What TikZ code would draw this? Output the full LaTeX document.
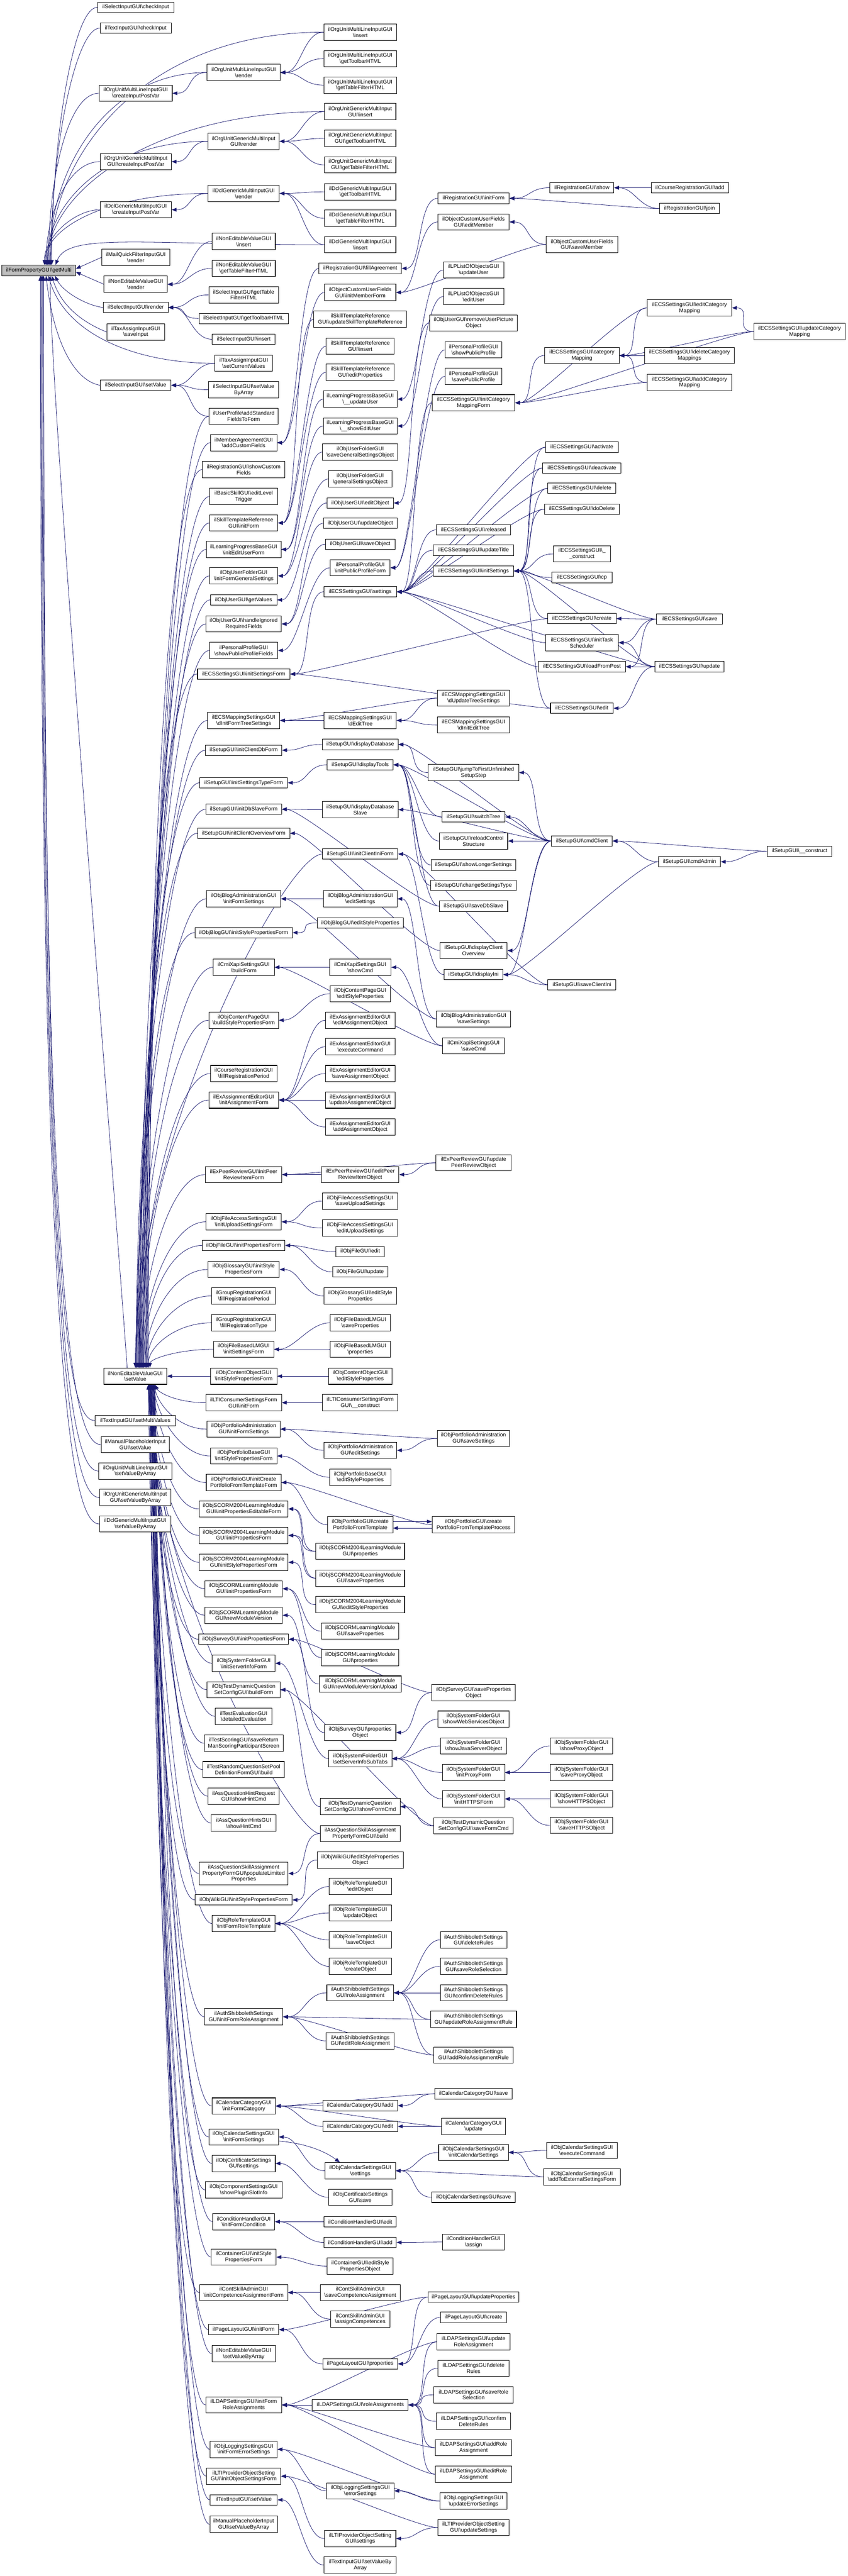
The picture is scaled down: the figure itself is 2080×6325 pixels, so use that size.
\documentclass[tikz,border=0pt]{standalone}
\usepackage{fontspec}
\setmainfont{Liberation Sans}
\usetikzlibrary{arrows.meta}
\definecolor{edgec}{HTML}{191970}
\definecolor{rootc}{HTML}{BFBFBF}
\newcommand\bs{\textbackslash}
\pgfdeclarelayer{bg}
\pgfsetlayers{bg,main}
\tikzset{
 box/.style={draw=black, line width=0.65pt, fill=white, align=center, inner xsep=1pt, inner ysep=1pt, font=\fontsize{6.63}{7.45}\selectfont},
 one/.style={minimum height=12.8pt},
 two/.style={minimum height=20pt},
 three/.style={minimum height=27.5pt},
 edge/.style={draw=edgec, line width=0.5pt, {Triangle[length=6pt,width=4.6pt]}-},
}
\newcommand\N[6]{\node[box,#5,minimum width={#4*0.5pt}] (#1) at (#2,#3) {#6};}
\newcommand\E[2]{\draw[edge] (#1.east) .. controls +(50,0) and +(-50,0) .. (#2.west);}
\newcommand\SU[3]{\draw[edge] ([xshift=#3]nnesv.north) .. controls +(0,{-0.45*(3359-#2)}) and +(-90,0) .. (#1.west);}
\newcommand\SD[3]{\draw[edge] ([xshift=#3]nnesv.south) .. controls +(10,{0.45*(#2-3399)}) and +(-70,0) .. (#1.west);}
\newcommand\RU[4]{\draw[edge] ([xshift=#2]root.north) .. controls +(0,-#3) and +(-#4,0) .. (#1.west);}
\newcommand\RD[4]{\draw[edge] ([xshift=#2]root.south) .. controls +(0,#3) and +(-#4,0) .. (#1.west);}
\begin{document}
\begin{tikzpicture}[x=0.5pt,y=-0.5pt]
\useasboundingbox (0,0) rectangle (2080,6325);
\begin{pgfonlayer}{bg}\fill[white] (0,0) rectangle (2080,6325);\end{pgfonlayer}
% ---------- root ----------
\node[box,one,fill=rootc,minimum width={181*0.5pt}] (root) at (95,664) {ilFormPropertyGUI\bs getMulti};
% ---------- column 2 ----------
\N{nsci}{333}{18}{187}{one}{ilSelectInputGUI\bs checkInput}
\N{ntci}{333}{69}{175}{one}{ilTextInputGUI\bs checkInput}
\N{nomlcp}{333}{229}{179}{two}{ilOrgUnitMultiLineInputGUI\\\bs createInputPostVar}
\N{nogmcp}{333}{397}{175}{two}{ilOrgUnitGenericMultiInput\\GUI\bs createInputPostVar}
\N{ndclcp}{333}{515}{175}{two}{ilDclGenericMultiInputGUI\\\bs createInputPostVar}
\N{nmqf}{333}{632}{167}{two}{ilMailQuickFilterInputGUI\\\bs render}
\N{nnevr}{333}{698}{155}{two}{ilNonEditableValueGUI\\\bs render}
\N{nsir}{333}{755}{159}{one}{ilSelectInputGUI\bs render}
\N{ntasi}{333}{815}{142}{two}{ilTaxAssignInputGUI\\\bs saveInput}
\N{nsisv}{333}{946}{173}{one}{ilSelectInputGUI\bs setValue}
\N{nnesv}{332}{3379}{155}{two}{ilNonEditableValueGUI\\\bs setValue}
\N{ntismv}{332}{3488}{197}{one}{ilTextInputGUI\bs setMultiValues}
\N{nmpsv}{332}{3547}{167}{two}{ilManualPlaceholderInput\\GUI\bs setValue}
\N{nomlsva}{332}{3612}{179}{two}{ilOrgUnitMultiLineInputGUI\\\bs setValueByArray}
\N{nogmsva}{332}{3677}{175}{two}{ilOrgUnitGenericMultiInput\\GUI\bs setValueByArray}
\N{ndclsva}{332}{3742}{175}{two}{ilDclGenericMultiInputGUI\\\bs setValueByArray}
% ---------- column 3 ----------
\N{comlr}{598}{178}{179}{two}{ilOrgUnitMultiLineInputGUI\\\bs render}
\N{cogmr}{598}{347}{175}{two}{ilOrgUnitGenericMultiInput\\GUI\bs render}
\N{cdclr}{598}{475}{175}{two}{ilDclGenericMultiInputGUI\\\bs render}
\N{cnevi}{598}{593}{155}{two}{ilNonEditableValueGUI\\\bs insert}
\N{cnevt}{598}{659}{155}{two}{ilNonEditableValueGUI\\\bs getTableFilterHTML}
\N{csitf}{598}{724}{171}{two}{ilSelectInputGUI\bs getTable\\FilterHTML}
\N{csitb}{598}{782}{219}{one}{ilSelectInputGUI\bs getToolbarHTML}
\N{csii}{598}{833}{154}{one}{ilSelectInputGUI\bs insert}
\N{ctascv}{598}{892}{142}{two}{ilTaxAssignInputGUI\\\bs setCurrentValues}
\N{csisva}{598}{957}{172}{two}{ilSelectInputGUI\bs setValue\\ByArray}
\N{cupasf}{598}{1022}{170}{two}{ilUserProfile\bs addStandard\\FieldsToForm}
\N{cmacf}{598}{1087}{163}{two}{ilMemberAgreementGUI\\\bs addCustomFields}
\N{crscf}{598}{1153}{203}{two}{ilRegistrationGUI\bs showCustom\\Fields}
\N{cbselt}{598}{1219}{167}{two}{ilBasicSkillGUI\bs editLevel\\Trigger}
\N{cstrif}{598}{1284}{167}{two}{ilSkillTemplateReference\\GUI\bs initForm}
\N{clpbieuf}{598}{1349}{183}{two}{ilLearningProgressBaseGUI\\\bs initEditUserForm}
\N{coufifgs}{598}{1414}{167}{two}{ilObjUserFolderGUI\\\bs initFormGeneralSettings}
\N{cougv}{598}{1473}{163}{one}{ilObjUserGUI\bs getValues}
\N{couhirf}{598}{1532}{185}{two}{ilObjUserGUI\bs handleIgnored\\RequiredFields}
\N{cppspf}{598}{1597}{167}{two}{ilPersonalProfileGUI\\\bs showPublicProfileFields}
\N{cecsisf}{598}{1655}{227}{one}{ilECSSettingsGUI\bs initSettingsForm}
\N{cecsmdift}{598}{1769}{177}{two}{ilECSMappingSettingsGUI\\\bs dInitFormTreeSettings}
\N{csicdf}{598}{1842}{187}{one}{ilSetupGUI\bs initClientDbForm}
\N{csistf}{598}{1922}{215}{one}{ilSetupGUI\bs initSettingsTypeForm}
\N{csidsf}{598}{1987}{186}{one}{ilSetupGUI\bs initDbSlaveForm}
\N{csicof}{598}{2046}{226}{one}{ilSetupGUI\bs initClientOverviewForm}
\N{cobaifs}{598}{2207}{182}{two}{ilObjBlogAdministrationGUI\\\bs initFormSettings}
\N{cobispf}{598}{2290}{239}{one}{ilObjBlogGUI\bs initStylePropertiesForm}
\N{ccxbf}{598}{2375}{150}{two}{ilCmiXapiSettingsGUI\\\bs buildForm}
\N{cocpbspf}{598}{2505}{171}{two}{ilObjContentPageGUI\\\bs buildStylePropertiesForm}
\N{ccrfrp}{598}{2636}{163}{two}{ilCourseRegistrationGUI\\\bs fillRegistrationPeriod}
\N{cexiaf}{598}{2701}{171}{two}{ilExAssignmentEditorGUI\\\bs initAssignmentForm}
\N{cexprif}{598}{2884}{187}{two}{ilExPeerReviewGUI\bs initPeer\\ReviewItemForm}
\N{cofasiusf}{598}{3000}{185}{two}{ilObjFileAccessSettingsGUI\\\bs initUploadSettingsForm}
\N{cofipf}{598}{3058}{203}{one}{ilObjFileGUI\bs initPropertiesForm}
\N{cogispf}{598}{3117}{175}{two}{ilObjGlossaryGUI\bs initStyle\\PropertiesForm}
\N{cgrfrp}{598}{3182}{157}{two}{ilGroupRegistrationGUI\\\bs fillRegistrationPeriod}
\N{cgrfrt}{598}{3248}{157}{two}{ilGroupRegistrationGUI\\\bs fillRegistrationType}
\N{cofblisf}{598}{3313}{148}{two}{ilObjFileBasedLMGUI\\\bs initSettingsForm}
\N{cocoispf}{598}{3379}{163}{two}{ilObjContentObjectGUI\\\bs initStylePropertiesForm}
\N{clticif}{598}{3444}{186}{two}{ilLTIConsumerSettingsForm\\GUI\bs initForm}
\N{copaifs}{598}{3509}{179}{two}{ilObjPortfolioAdministration\\GUI\bs initFormSettings}
\N{copbispf}{598}{3575}{163}{two}{ilObjPortfolioBaseGUI\\\bs initStylePropertiesForm}
\N{copicpft}{598}{3640}{184}{two}{ilObjPortfolioGUI\bs initCreate\\PortfolioFromTemplateForm}
\N{cstwoipef}{598}{3705}{218}{two}{ilObjSCORM2004LearningModule\\GUI\bs initPropertiesEditableForm}
\N{cstwoipf}{598}{3770}{218}{two}{ilObjSCORM2004LearningModule\\GUI\bs initPropertiesForm}
\N{cstwoispf}{598}{3836}{218}{two}{ilObjSCORM2004LearningModule\\GUI\bs initStylePropertiesForm}
\N{csipf}{598}{3901}{190}{two}{ilObjSCORMLearningModule\\GUI\bs initPropertiesForm}
\N{csnmv}{598}{3966}{190}{two}{ilObjSCORMLearningModule\\GUI\bs newModuleVersion}
\N{cosipf}{598}{4025}{220}{one}{ilObjSurveyGUI\bs initPropertiesForm}
\N{cosfisif}{598}{4084}{154}{two}{ilObjSystemFolderGUI\\\bs initServerInfoForm}
\N{ctdqbf}{598}{4149}{179}{two}{ilObjTestDynamicQuestion\\SetConfigGUI\bs buildForm}
\N{ctede}{598}{4214}{139}{two}{ilTestEvaluationGUI\\\bs detailedEvaluation}
\N{ctsgs}{598}{4280}{194}{two}{ilTestScoringGUI\bs saveReturn\\ManScoringParticipantScreen}
\N{ctrqs}{598}{4345}{200}{two}{ilTestRandomQuestionSetPool\\DefinitionFormGUI\bs build}
\N{caqhr}{598}{4410}{175}{two}{ilAssQuestionHintRequest\\GUI\bs showHintCmd}
\N{caqh}{598}{4476}{159}{two}{ilAssQuestionHintsGUI\\\bs showHintCmd}
\N{caqsapl}{598}{4600}{218}{three}{ilAssQuestionSkillAssignment\\PropertyFormGUI\bs populateLimited\\Properties}
\N{cowispf}{598}{4665}{238}{one}{ilObjWikiGUI\bs initStylePropertiesForm}
\N{cortifrt}{598}{4723}{154}{two}{ilObjRoleTemplateGUI\\\bs initFormRoleTemplate}
\N{cshifra}{598}{4952}{192}{two}{ilAuthShibbolethSettings\\GUI\bs initFormRoleAssignment}
\N{cccifc}{598}{5171}{156}{two}{ilCalendarCategoryGUI\\\bs initFormCategory}
\N{cocsifs}{598}{5247}{171}{two}{ilObjCalendarSettingsGUI\\\bs initFormSettings}
\N{cocertss}{598}{5312}{155}{two}{ilObjCertificateSettings\\GUI\bs settings}
\N{cocompsp}{598}{5377}{188}{two}{ilObjComponentSettingsGUI\\\bs showPluginSlotInfo}
\N{cchifc}{598}{5455}{152}{two}{ilConditionHandlerGUI\\\bs initFormCondition}
\N{ccispf}{598}{5542}{159}{two}{ilContainerGUI\bs initStyle\\PropertiesForm}
\N{ccsaicaf}{598}{5629}{216}{two}{ilContSkillAdminGUI\\\bs initCompetenceAssignmentForm}
\N{cplif}{598}{5720}{172}{one}{ilPageLayoutGUI\bs initForm}
\N{cnevsva}{598}{5779}{156}{two}{ilNonEditableValueGUI\\\bs setValueByArray}
\N{cldapifra}{598}{5905}{186}{two}{ilLDAPSettingsGUI\bs initForm\\RoleAssignments}
\N{colsifes}{598}{6014}{165}{two}{ilObjLoggingSettingsGUI\\\bs initFormErrorSettings}
\N{cltipiosf}{598}{6080}{182}{two}{ilLTIProviderObjectSetting\\GUI\bs initObjectSettingsForm}
\N{ctisv}{598}{6138}{165}{one}{ilTextInputGUI\bs setValue}
\N{cmpsva}{598}{6198}{166}{two}{ilManualPlaceholderInput\\GUI\bs setValueByArray}
% ---------- column 4 ----------
\N{domli}{884}{79}{179}{two}{ilOrgUnitMultiLineInputGUI\\\bs insert}
\N{domltb}{884}{144}{179}{two}{ilOrgUnitMultiLineInputGUI\\\bs getToolbarHTML}
\N{domltf}{884}{209}{179}{two}{ilOrgUnitMultiLineInputGUI\\\bs getTableFilterHTML}
\N{dogmi}{884}{274}{175}{two}{ilOrgUnitGenericMultiInput\\GUI\bs insert}
\N{dogmtb}{884}{340}{175}{two}{ilOrgUnitGenericMultiInput\\GUI\bs getToolbarHTML}
\N{dogmtf}{884}{405}{175}{two}{ilOrgUnitGenericMultiInput\\GUI\bs getTableFilterHTML}
\N{ddcltb}{884}{471}{175}{two}{ilDclGenericMultiInputGUI\\\bs getToolbarHTML}
\N{ddcltf}{884}{536}{175}{two}{ilDclGenericMultiInputGUI\\\bs getTableFilterHTML}
\N{ddcli}{884}{601}{175}{two}{ilDclGenericMultiInputGUI\\\bs insert}
\N{drfa}{884}{659}{202}{one}{ilRegistrationGUI\bs fillAgreement}
\N{docufimf}{884}{718}{175}{two}{ilObjectCustomUserFields\\GUI\bs initMemberForm}
\N{dstrust}{884}{784}{228}{two}{ilSkillTemplateReference\\GUI\bs updateSkillTemplateReference}
\N{dstri}{884}{850}{167}{two}{ilSkillTemplateReference\\GUI\bs insert}
\N{dstrep}{884}{914}{167}{two}{ilSkillTemplateReference\\GUI\bs editProperties}
\N{dlpbuu}{884}{980}{181}{two}{ilLearningProgressBaseGUI\\\bs \_\_updateUser}
\N{dlpbseu}{884}{1046}{181}{two}{ilLearningProgressBaseGUI\\\bs \_\_showEditUser}
\N{doufsgs}{884}{1110}{185}{two}{ilObjUserFolderGUI\\\bs saveGeneralSettingsObject}
\N{doufgso}{884}{1176}{155}{two}{ilObjUserFolderGUI\\\bs generalSettingsObject}
\N{doueo}{884}{1235}{163}{one}{ilObjUserGUI\bs editObject}
\N{douuo}{884}{1285}{181}{one}{ilObjUserGUI\bs updateObject}
\N{douso}{884}{1336}{170}{one}{ilObjUserGUI\bs saveObject}
\N{dppippf}{884}{1394}{147}{two}{ilPersonalProfileGUI\\\bs initPublicProfileForm}
\N{decss}{884}{1453}{178}{one}{ilECSSettingsGUI\bs settings}
\N{decsmdet}{884}{1769}{177}{two}{ilECSMappingSettingsGUI\\\bs dEditTree}
\N{dsdd}{884}{1828}{186}{one}{ilSetupGUI\bs displayDatabase}
\N{dsdt}{884}{1878}{162}{one}{ilSetupGUI\bs displayTools}
\N{dsdds}{884}{1988}{186}{two}{ilSetupGUI\bs displayDatabase\\Slave}
\N{dsicif}{884}{2097}{185}{one}{ilSetupGUI\bs initClientIniForm}
\N{dobaes}{884}{2207}{181}{two}{ilObjBlogAdministrationGUI\\\bs editSettings}
\N{dobesp}{884}{2266}{212}{one}{ilObjBlogGUI\bs editStyleProperties}
\N{dcxsc}{884}{2375}{151}{two}{ilCmiXapiSettingsGUI\\\bs showCmd}
\N{docpesp}{884}{2440}{148}{two}{ilObjContentPageGUI\\\bs editStyleProperties}
\N{dexeao}{884}{2505}{170}{two}{ilExAssignmentEditorGUI\\\bs editAssignmentObject}
\N{dexec}{884}{2570}{170}{two}{ilExAssignmentEditorGUI\\\bs executeCommand}
\N{dexsao}{884}{2636}{170}{two}{ilExAssignmentEditorGUI\\\bs saveAssignmentObject}
\N{dexuao}{884}{2701}{170}{two}{ilExAssignmentEditorGUI\\\bs updateAssignmentObject}
\N{dexaao}{884}{2767}{170}{two}{ilExAssignmentEditorGUI\\\bs addAssignmentObject}
\N{dexepr}{884}{2884}{190}{two}{ilExPeerReviewGUI\bs editPeer\\ReviewItemObject}
\N{dofassus}{884}{2949}{185}{two}{ilObjFileAccessSettingsGUI\\\bs saveUploadSettings}
\N{dofaseus}{884}{3015}{185}{two}{ilObjFileAccessSettingsGUI\\\bs editUploadSettings}
\N{dofe}{884}{3073}{119}{one}{ilObjFileGUI\bs edit}
\N{dofu}{884}{3123}{136}{one}{ilObjFileGUI\bs update}
\N{dogesp}{884}{3182}{179}{two}{ilObjGlossaryGUI\bs editStyle\\Properties}
\N{dofblsp}{884}{3248}{148}{two}{ilObjFileBasedLMGUI\\\bs saveProperties}
\N{dofblp}{884}{3313}{148}{two}{ilObjFileBasedLMGUI\\\bs properties}
\N{docoesp}{884}{3379}{156}{two}{ilObjContentObjectGUI\\\bs editStyleProperties}
\N{dltic}{884}{3444}{185}{two}{ilLTIConsumerSettingsForm\\GUI\bs \_\_construct}
\N{dopaes}{884}{3561}{179}{two}{ilObjPortfolioAdministration\\GUI\bs editSettings}
\N{dopbesp}{884}{3627}{150}{two}{ilObjPortfolioBaseGUI\\\bs editStyleProperties}
\N{dopcpft}{884}{3744}{160}{two}{ilObjPortfolioGUI\bs create\\PortfolioFromTemplate}
\N{dstwop}{884}{3809}{218}{two}{ilObjSCORM2004LearningModule\\GUI\bs properties}
\N{dstwosp}{884}{3875}{218}{two}{ilObjSCORM2004LearningModule\\GUI\bs saveProperties}
\N{dstwoesp}{884}{3940}{218}{two}{ilObjSCORM2004LearningModule\\GUI\bs editStyleProperties}
\N{dssp}{884}{4005}{190}{two}{ilObjSCORMLearningModule\\GUI\bs saveProperties}
\N{dsp}{884}{4070}{190}{two}{ilObjSCORMLearningModule\\GUI\bs properties}
\N{dsnmvu}{884}{4135}{201}{two}{ilObjSCORMLearningModule\\GUI\bs newModuleVersionUpload}
\N{dospo}{884}{4254}{175}{two}{ilObjSurveyGUI\bs properties\\Object}
\N{dosfssist}{884}{4318}{155}{two}{ilObjSystemFolderGUI\\\bs setServerInfoSubTabs}
\N{dtdqsfc}{884}{4436}{196}{two}{ilObjTestDynamicQuestion\\SetConfigGUI\bs showFormCmd}
\N{daqsab}{884}{4502}{196}{two}{ilAssQuestionSkillAssignment\\PropertyFormGUI\bs build}
\N{dowesp}{884}{4567}{211}{two}{ilObjWikiGUI\bs editStyleProperties\\Object}
\N{dorteo}{884}{4632}{153}{two}{ilObjRoleTemplateGUI\\\bs editObject}
\N{dortuo}{884}{4697}{153}{two}{ilObjRoleTemplateGUI\\\bs updateObject}
\N{dortso}{884}{4763}{153}{two}{ilObjRoleTemplateGUI\\\bs saveObject}
\N{dortco}{884}{4828}{153}{two}{ilObjRoleTemplateGUI\\\bs createObject}
\N{dshra}{884}{4893}{164}{two}{ilAuthShibbolethSettings\\GUI\bs roleAssignment}
\N{dshera}{884}{5011}{167}{two}{ilAuthShibbolethSettings\\GUI\bs editRoleAssignment}
\N{dcca}{884}{5170}{183}{one}{ilCalendarCategoryGUI\bs add}
\N{dcce}{884}{5221}{183}{one}{ilCalendarCategoryGUI\bs edit}
\N{docss}{884}{5330}{173}{two}{ilObjCalendarSettingsGUI\\\bs settings}
\N{docerts}{884}{5395}{156}{two}{ilObjCertificateSettings\\GUI\bs save}
\N{dche}{884}{5455}{177}{one}{ilConditionHandlerGUI\bs edit}
\N{dcha}{884}{5506}{177}{one}{ilConditionHandlerGUI\bs add}
\N{dcespo}{884}{5564}{162}{two}{ilContainerGUI\bs editStyle\\PropertiesObject}
\N{dcsasca}{884}{5629}{196}{two}{ilContSkillAdminGUI\\\bs saveCompetenceAssignment}
\N{dcsaac}{884}{5694}{145}{two}{ilContSkillAdminGUI\\\bs assignCompetences}
\N{dplp}{884}{5804}{184}{one}{ilPageLayoutGUI\bs properties}
\N{dldapra}{884}{5905}{235}{one}{ilLDAPSettingsGUI\bs roleAssignments}
\N{dolses}{884}{6116}{166}{two}{ilObjLoggingSettingsGUI\\\bs errorSettings}
\N{dltips}{884}{6233}{175}{two}{ilLTIProviderObjectSetting\\GUI\bs settings}
\N{dtisva}{884}{6298}{177}{two}{ilTextInputGUI\bs setValueBy\\Array}
% ---------- column 5 ----------
\N{erif}{1162}{487}{175}{one}{ilRegistrationGUI\bs initForm}
\N{eocufem}{1162}{545}{175}{two}{ilObjectCustomUserFields\\GUI\bs editMember}
\N{elploupd}{1162}{663}{148}{two}{ilLPListOfObjectsGUI\\\bs updateUser}
\N{elploed}{1162}{728}{148}{two}{ilLPListOfObjectsGUI\\\bs editUser}
\N{eourupo}{1162}{793}{216}{two}{ilObjUserGUI\bs removeUserPicture\\Object}
\N{eppspp}{1162}{859}{140}{two}{ilPersonalProfileGUI\\\bs showPublicProfile}
\N{eppsavpp}{1162}{924}{140}{two}{ilPersonalProfileGUI\\\bs savePublicProfile}
\N{eecsicmf}{1162}{989}{203}{two}{ilECSSettingsGUI\bs initCategory\\MappingForm}
\N{eecsrel}{1162}{1301}{182}{one}{ilECSSettingsGUI\bs released}
\N{eecsut}{1162}{1351}{197}{one}{ilECSSettingsGUI\bs updateTitle}
\N{eecsis}{1162}{1402}{197}{one}{ilECSSettingsGUI\bs initSettings}
\N{eecsmduts}{1162}{1714}{178}{two}{ilECSMappingSettingsGUI\\\bs dUpdateTreeSettings}
\N{eecsmdiet}{1162}{1780}{178}{two}{ilECSMappingSettingsGUI\\\bs dInitEditTree}
\N{esjtf}{1162}{1897}{222}{two}{ilSetupGUI\bs jumpToFirstUnfinished\\SetupStep}
\N{esst}{1162}{2006}{155}{one}{ilSetupGUI\bs switchTree}
\N{esrcs}{1162}{2065}{168}{two}{ilSetupGUI\bs reloadControl\\Structure}
\N{esls}{1162}{2124}{207}{one}{ilSetupGUI\bs showLongerSettings}
\N{escst}{1162}{2174}{209}{one}{ilSetupGUI\bs changeSettingsType}
\N{essds}{1162}{2225}{168}{one}{ilSetupGUI\bs saveDbSlave}
\N{esdco}{1162}{2334}{165}{two}{ilSetupGUI\bs displayClient\\Overview}
\N{esdi}{1162}{2393}{145}{one}{ilSetupGUI\bs displayIni}
\N{eobass}{1162}{2502}{182}{two}{ilObjBlogAdministrationGUI\\\bs saveSettings}
\N{ecxsc}{1162}{2568}{151}{two}{ilCmiXapiSettingsGUI\\\bs saveCmd}
\N{eexprupr}{1162}{2855}{184}{two}{ilExPeerReviewGUI\bs update\\PeerReviewObject}
\N{eopass}{1162}{3532}{178}{two}{ilObjPortfolioAdministration\\GUI\bs saveSettings}
\N{eopcpftp}{1162}{3744}{203}{two}{ilObjPortfolioGUI\bs create\\PortfolioFromTemplateProcess}
\N{eosspo}{1162}{4156}{204}{two}{ilObjSurveyGUI\bs saveProperties\\Object}
\N{eosfswso}{1162}{4221}{174}{two}{ilObjSystemFolderGUI\\\bs showWebServicesObject}
\N{eosfsjso}{1162}{4287}{161}{two}{ilObjSystemFolderGUI\\\bs showJavaServerObject}
\N{eosfipf}{1162}{4352}{153}{two}{ilObjSystemFolderGUI\\\bs initProxyForm}
\N{eosfihf}{1162}{4417}{153}{two}{ilObjSystemFolderGUI\\\bs initHTTPSForm}
\N{etdqsfc}{1162}{4483}{194}{two}{ilObjTestDynamicQuestion\\SetConfigGUI\bs saveFormCmd}
\N{eshdr}{1162}{4763}{163}{two}{ilAuthShibbolethSettings\\GUI\bs deleteRules}
\N{eshsrs}{1162}{4828}{163}{two}{ilAuthShibbolethSettings\\GUI\bs saveRoleSelection}
\N{eshcdr}{1162}{4893}{163}{two}{ilAuthShibbolethSettings\\GUI\bs confirmDeleteRules}
\N{eshurar}{1162}{4958}{211}{two}{ilAuthShibbolethSettings\\GUI\bs updateRoleAssignmentRule}
\N{eshara}{1162}{5046}{194}{two}{ilAuthShibbolethSettings\\GUI\bs addRoleAssignmentRule}
\N{eccs}{1162}{5141}{189}{one}{ilCalendarCategoryGUI\bs save}
\N{eccu}{1162}{5221}{157}{two}{ilCalendarCategoryGUI\\\bs update}
\N{eocsics}{1162}{5285}{171}{two}{ilObjCalendarSettingsGUI\\\bs initCalendarSettings}
\N{eocssave}{1162}{5395}{204}{one}{ilObjCalendarSettingsGUI\bs save}
\N{echa}{1162}{5505}{152}{two}{ilConditionHandlerGUI\\\bs assign}
\N{eplup}{1162}{5640}{222}{one}{ilPageLayoutGUI\bs updateProperties}
\N{eplc}{1162}{5690}{161}{one}{ilPageLayoutGUI\bs create}
\N{eldapura}{1162}{5750}{179}{two}{ilLDAPSettingsGUI\bs update\\RoleAssignment}
\N{eldapdr}{1162}{5815}{175}{two}{ilLDAPSettingsGUI\bs delete\\Rules}
\N{eldapsrs}{1162}{5880}{194}{two}{ilLDAPSettingsGUI\bs saveRole\\Selection}
\N{eldapcdr}{1162}{5945}{182}{two}{ilLDAPSettingsGUI\bs confirm\\DeleteRules}
\N{eldapara}{1162}{6010}{187}{two}{ilLDAPSettingsGUI\bs addRole\\Assignment}
\N{eldapera}{1162}{6075}{187}{two}{ilLDAPSettingsGUI\bs editRole\\Assignment}
\N{eolsues}{1162}{6141}{165}{two}{ilObjLoggingSettingsGUI\\\bs updateErrorSettings}
\N{eltipus}{1162}{6206}{175}{two}{ilLTIProviderObjectSetting\\GUI\bs updateSettings}
% ---------- column 6 ----------
\N{frs}{1428}{461}{157}{one}{ilRegistrationGUI\bs show}
\N{focufsm}{1428}{600}{175}{two}{ilObjectCustomUserFields\\GUI\bs saveMember}
\N{fecscm}{1428}{873}{183}{two}{ilECSSettingsGUI\bs category\\Mapping}
\N{fecsact}{1428}{1098}{179}{one}{ilECSSettingsGUI\bs activate}
\N{fecsdeact}{1428}{1149}{192}{one}{ilECSSettingsGUI\bs deactivate}
\N{fecsdel}{1428}{1199}{167}{one}{ilECSSettingsGUI\bs delete}
\N{fecsdodel}{1428}{1250}{183}{one}{ilECSSettingsGUI\bs doDelete}
\N{fecscon}{1428}{1360}{140}{two}{ilECSSettingsGUI\bs \_\\\_construct}
\N{fecscp}{1428}{1418}{148}{one}{ilECSSettingsGUI\bs cp}
\N{fecscreate}{1428}{1519}{168}{one}{ilECSSettingsGUI\bs create}
\N{fecsits}{1428}{1578}{179}{two}{ilECSSettingsGUI\bs initTask\\Scheduler}
\N{fecslfp}{1428}{1637}{214}{one}{ilECSSettingsGUI\bs loadFromPost}
\N{fecsedit}{1428}{1739}{154}{one}{ilECSSettingsGUI\bs edit}
\N{fscc}{1428}{2065}{149}{one}{ilSetupGUI\bs cmdClient}
\N{fssci}{1428}{2418}{167}{one}{ilSetupGUI\bs saveClientIni}
\N{fosfspo}{1427}{4287}{154}{two}{ilObjSystemFolderGUI\\\bs showProxyObject}
\N{fosfsvpo}{1427}{4352}{154}{two}{ilObjSystemFolderGUI\\\bs saveProxyObject}
\N{fosfsho}{1427}{4417}{154}{two}{ilObjSystemFolderGUI\\\bs showHTTPSObject}
\N{fosfsvho}{1427}{4482}{154}{two}{ilObjSystemFolderGUI\\\bs saveHTTPSObject}
\N{focsec}{1428}{5280}{173}{two}{ilObjCalendarSettingsGUI\\\bs executeCommand}
\N{focsaesf}{1428}{5345}{188}{two}{ilObjCalendarSettingsGUI\\\bs addToExternalSettingsForm}
% ---------- column 7 / 8 ----------
\N{gcra}{1693}{461}{189}{one}{ilCourseRegistrationGUI\bs add}
\N{grj}{1692}{512}{146}{one}{ilRegistrationGUI\bs join}
\N{gecsecm}{1692}{756}{207}{two}{ilECSSettingsGUI\bs editCategory\\Mapping}
\N{gecsdcm}{1692}{873}{221}{two}{ilECSSettingsGUI\bs deleteCategory\\Mappings}
\N{gecsacm}{1692}{939}{207}{two}{ilECSSettingsGUI\bs addCategory\\Mapping}
\N{gecssave}{1692}{1520}{161}{one}{ilECSSettingsGUI\bs save}
\N{gecsupd}{1692}{1637}{170}{one}{ilECSSettingsGUI\bs update}
\N{gsca}{1692}{2116}{152}{one}{ilSetupGUI\bs cmdAdmin}
\N{hecsucm}{1962}{814}{224}{two}{ilECSSettingsGUI\bs updateCategory\\Mapping}
\N{hscon}{1962}{2090}{159}{one}{ilSetupGUI\bs \_\_construct}
% ================= edges =================
\begin{pgfonlayer}{bg}
% root, upward
\RU{nsci}{16pt}{300}{60}
\RU{ntci}{15pt}{280}{60}
\RU{domli}{14pt}{260}{450}
\RU{comlr}{13pt}{230}{250}
\RU{nomlcp}{12pt}{200}{80}
\RU{dogmi}{11pt}{180}{420}
\RU{cogmr}{10pt}{150}{250}
\RU{nogmcp}{9pt}{120}{80}
\RU{cdclr}{8pt}{90}{250}
\RU{ndclcp}{7pt}{70}{60}
\draw[edge] ([xshift=-25pt]root.north east) .. controls +(30,-80) and +(-450,0) .. (ddcli.west);
% root, right and downward
\draw[edge] ([yshift=2pt]root.east) -- (nmqf.west);
\draw[edge] ([yshift=-2pt]root.east) -- (nnevr.west);
\draw[edge] ([xshift=20pt]root.south) .. controls +(20,40) and +(-40,-5) .. (nsir.west);
\draw[edge] ([xshift=16pt]root.south) .. controls +(25,80) and +(-50,-20) .. (ntasi.west);
\draw[edge] ([xshift=12pt]root.south) .. controls +(40,140) and +(-200,0) .. (ctascv.west);
\draw[edge] ([xshift=9pt]root.south) .. controls +(20,170) and +(-60,-10) .. (nsisv.west);
\draw[edge] ([xshift=14pt]root.south) .. controls +(0,300) and +(-20,-300) .. ([xshift=-10pt]nnesv.north);
\RD{ntismv}{6pt}{2500}{70}
\RD{nmpsv}{5pt}{2550}{70}
\RD{nomlsva}{4pt}{2600}{70}
\RD{nogmsva}{3pt}{2650}{70}
\RD{ndclsva}{2pt}{2700}{70}
% top groups
\E{nomlcp}{comlr}\E{comlr}{domli}\E{comlr}{domltb}\E{comlr}{domltf}
\E{nogmcp}{cogmr}\E{cogmr}{dogmi}\E{cogmr}{dogmtb}\E{cogmr}{dogmtf}
\E{ndclcp}{cdclr}\E{cdclr}{ddcltb}\E{cdclr}{ddcltf}\E{cdclr}{ddcli}
\E{nnevr}{cnevi}\E{nnevr}{cnevt}
\E{nsir}{csitf}\E{nsir}{csitb}\E{nsir}{csii}
\E{nsisv}{ctascv}\E{nsisv}{csisva}\E{nsisv}{cupasf}
% column 3 <- column 4 (upper)
\E{cmacf}{drfa}\E{cmacf}{docufimf}
\E{cstrif}{dstrust}\E{cstrif}{dstri}\E{cstrif}{dstrep}
\E{clpbieuf}{dlpbuu}\E{clpbieuf}{dlpbseu}
\E{coufifgs}{doufsgs}\E{coufifgs}{doufgso}
\E{cougv}{doueo}
\E{couhirf}{douuo}\E{couhirf}{douso}
\E{cppspf}{dppippf}
\E{cecsisf}{decss}\E{cecsisf}{fecscreate}\E{cecsisf}{fecsedit}
\E{drfa}{erif}\E{docufimf}{eocufem}\E{docufimf}{focufsm}
\E{dlpbuu}{elploupd}\E{dlpbseu}{elploed}\E{doueo}{eourupo}
\E{dppippf}{eppspp}\E{dppippf}{eppsavpp}
\E{erif}{frs}\E{erif}{grj}\E{frs}{gcra}\E{frs}{grj}\E{eocufem}{focufsm}
% ECS
\E{decss}{eecsicmf}\E{decss}{eecsrel}\E{decss}{eecsut}\E{decss}{eecsis}
\E{decss}{fecsact}\E{decss}{fecsdeact}\E{decss}{fecsdel}\E{decss}{fecsdodel}
\E{decss}{fecsits}\E{decss}{fecslfp}\E{decss}{gecsupd}
\E{eecsicmf}{gecsecm}\E{eecsicmf}{fecscm}\E{eecsicmf}{gecsacm}\E{eecsicmf}{hecsucm}
\E{fecscm}{gecsecm}\E{fecscm}{hecsucm}\E{fecscm}{gecsdcm}\E{fecscm}{gecsacm}
\E{gecsecm}{hecsucm}
\E{eecsis}{fecsact}\E{eecsis}{fecsdeact}\E{eecsis}{fecsdel}\E{eecsis}{fecsdodel}
\E{eecsis}{fecscon}\E{eecsis}{fecscp}\E{eecsis}{fecscreate}\E{eecsis}{gecssave}
\E{eecsis}{gecsupd}\E{eecsis}{fecsedit}
\E{fecscreate}{gecssave}\E{fecsits}{gecssave}\E{fecsits}{gecsupd}
\E{fecslfp}{gecssave}\E{fecslfp}{gecsupd}\E{fecsedit}{gecsupd}
\E{cecsmdift}{decsmdet}\E{cecsmdift}{eecsmduts}\E{decsmdet}{eecsmduts}\E{decsmdet}{eecsmdiet}
% Setup
\E{csicdf}{dsdd}\E{dsdd}{fscc}\E{dsdd}{esjtf}
\E{csistf}{dsdt}\E{dsdt}{esst}\E{dsdt}{esrcs}\E{dsdt}{esls}\E{dsdt}{escst}\E{dsdt}{essds}\E{dsdt}{fscc}
\E{csidsf}{dsdds}\E{csidsf}{essds}\E{dsdds}{fscc}
\E{csicof}{esdco}
\E{dsicif}{esdi}\E{dsicif}{fssci}
\E{esjtf}{fscc}\E{esst}{fscc}\E{esrcs}{fscc}\E{esdco}{fscc}\E{esdi}{fscc}\E{esdi}{gsca}\E{esdi}{fssci}
\E{fscc}{hscon}\E{fscc}{gsca}\E{gsca}{hscon}
% middle groups
\E{cobaifs}{dobaes}\E{cobaifs}{eobass}\E{dobaes}{eobass}
\E{cobispf}{dobesp}
\E{ccxbf}{dcxsc}\E{ccxbf}{ecxsc}\E{dcxsc}{ecxsc}
\E{cocpbspf}{docpesp}
\E{cexiaf}{dexeao}\E{cexiaf}{dexec}\E{cexiaf}{dexsao}\E{cexiaf}{dexuao}\E{cexiaf}{dexaao}
\E{cexprif}{dexepr}\E{cexprif}{eexprupr}\E{dexepr}{eexprupr}
\E{cofasiusf}{dofassus}\E{cofasiusf}{dofaseus}
\E{cofipf}{dofe}\E{cofipf}{dofu}
\E{cogispf}{dogesp}
\E{cofblisf}{dofblsp}\E{cofblisf}{dofblp}
\E{cocoispf}{docoesp}
\E{clticif}{dltic}
\E{copaifs}{eopass}\E{copaifs}{dopaes}\E{dopaes}{eopass}
\E{copbispf}{dopbesp}
\E{copicpft}{dopcpft}\E{copicpft}{eopcpftp}
\draw[edge] ([yshift=4pt]eopcpftp.west) -- ([yshift=4pt]dopcpft.east);
\draw[edge] ([yshift=-4pt]dopcpft.east) -- ([yshift=-4pt]eopcpftp.west);
\E{cstwoipef}{dstwop}\E{cstwoipef}{dstwosp}\E{cstwoipf}{dstwop}\E{cstwoipf}{dstwosp}\E{cstwoispf}{dstwoesp}
\E{csipf}{dssp}\E{csipf}{dsp}\E{csnmv}{dsnmvu}
\E{cosipf}{dospo}\E{cosipf}{eosspo}\E{dospo}{eosspo}
\E{cosfisif}{dosfssist}
\E{ctdqbf}{dtdqsfc}\E{ctdqbf}{etdqsfc}\E{dtdqsfc}{etdqsfc}
\E{dosfssist}{eosfswso}\E{dosfssist}{eosfsjso}\E{dosfssist}{eosfipf}\E{dosfssist}{eosfihf}
\E{eosfipf}{fosfspo}\E{eosfipf}{fosfsvpo}\E{eosfihf}{fosfsho}\E{eosfihf}{fosfsvho}
\E{caqsapl}{daqsab}
\E{cowispf}{dowesp}
\E{cortifrt}{dorteo}\E{cortifrt}{dortuo}\E{cortifrt}{dortso}\E{cortifrt}{dortco}
\E{cshifra}{dshra}\E{cshifra}{eshurar}\E{cshifra}{dshera}\E{cshifra}{eshara}
\E{dshra}{eshdr}\E{dshra}{eshsrs}\E{dshra}{eshcdr}\E{dshra}{eshurar}\E{dshra}{eshara}
\E{cccifc}{eccs}\E{cccifc}{dcca}\E{cccifc}{dcce}\E{cccifc}{eccu}\E{dcca}{eccs}\E{dcce}{eccu}
\E{cocsifs}{docss}\E{docss}{eocsics}\E{docss}{eocssave}\E{docss}{focsaesf}
\E{eocsics}{focsec}\E{eocsics}{focsaesf}
\draw[edge] ([xshift=-25pt]docss.north) .. controls +(-40,-30) and +(60,5) .. ([yshift=-5pt]cocsifs.east);
\E{cocertss}{docerts}
\E{cchifc}{dche}\E{cchifc}{dcha}\E{dcha}{echa}
\E{ccispf}{dcespo}
\E{ccsaicaf}{dcsasca}\E{ccsaicaf}{dcsaac}
\E{cplif}{eplup}\E{cplif}{dplp}\E{dplp}{eplup}\E{dplp}{eplc}
\E{cldapifra}{eldapura}\E{cldapifra}{dldapra}\E{cldapifra}{eldapara}\E{cldapifra}{eldapera}
\E{dldapra}{eldapura}\E{dldapra}{eldapdr}\E{dldapra}{eldapsrs}\E{dldapra}{eldapcdr}\E{dldapra}{eldapara}\E{dldapra}{eldapera}
\E{colsifes}{dolses}\E{colsifes}{eolsues}\E{dolses}{eolsues}
\E{cltipiosf}{dltips}\E{cltipiosf}{eltipus}\E{dltips}{eltipus}
\E{ctisv}{dtisva}
% bundle into ilNonEditableValueGUI\setValue (callers above)
\SU{cupasf}{1022}{16pt}\SU{cmacf}{1087}{15pt}\SU{crscf}{1153}{14pt}\SU{cbselt}{1219}{13pt}
\SU{cstrif}{1284}{12pt}\SU{clpbieuf}{1349}{11pt}\SU{coufifgs}{1414}{10pt}\SU{cougv}{1473}{9pt}
\SU{couhirf}{1532}{8pt}\SU{cppspf}{1597}{7pt}\SU{cecsisf}{1655}{6pt}\SU{cecsmdift}{1769}{5pt}
\SU{csicdf}{1842}{4pt}\SU{csistf}{1922}{3pt}\SU{csidsf}{1987}{2pt}\SU{csicof}{2046}{1pt}
\SU{dsicif}{2097}{0pt}\SU{cobaifs}{2207}{1pt}\SU{cobispf}{2290}{2pt}\SU{ccxbf}{2375}{3pt}
\SU{cocpbspf}{2505}{4pt}\SU{ccrfrp}{2636}{5pt}\SU{cexiaf}{2701}{6pt}\SU{cexprif}{2884}{7pt}
\SU{cofasiusf}{3000}{8pt}\SU{cofipf}{3058}{10pt}\SU{cogispf}{3117}{12pt}\SU{cgrfrp}{3182}{14pt}
\SU{cgrfrt}{3248}{16pt}\SU{cofblisf}{3313}{18pt}
\E{nnesv}{cocoispf}
% bundle into ilNonEditableValueGUI\setValue (callers below)
\SD{clticif}{3444}{24pt}\SD{copaifs}{3509}{23pt}\SD{copbispf}{3575}{22pt}\SD{copicpft}{3640}{21pt}
\SD{cstwoipef}{3705}{20pt}\SD{cstwoipf}{3770}{19pt}\SD{cstwoispf}{3836}{18pt}\SD{csipf}{3901}{17pt}
\SD{csnmv}{3966}{16pt}\SD{cosipf}{4025}{17pt}\SD{cosfisif}{4084}{18pt}\SD{ctdqbf}{4149}{19pt}
\SD{ctede}{4214}{20pt}\SD{ctsgs}{4280}{21pt}\SD{ctrqs}{4345}{22pt}\SD{caqhr}{4410}{23pt}
\SD{caqh}{4476}{24pt}\SD{daqsab}{4502}{16pt}\SD{caqsapl}{4600}{17pt}\SD{cowispf}{4665}{18pt}
\SD{cortifrt}{4723}{19pt}\SD{cshifra}{4952}{20pt}\SD{cccifc}{5171}{21pt}\SD{cocsifs}{5247}{22pt}
\SD{cocertss}{5312}{23pt}\SD{cocompsp}{5377}{24pt}\SD{cchifc}{5455}{16pt}\SD{ccispf}{5542}{17pt}
\SD{ccsaicaf}{5629}{18pt}\SD{cplif}{5720}{19pt}\SD{cnevsva}{5779}{20pt}\SD{cldapifra}{5905}{21pt}
\SD{colsifes}{6014}{22pt}\SD{cltipiosf}{6080}{23pt}\SD{ctisv}{6138}{24pt}\SD{cmpsva}{6198}{20pt}
\end{pgfonlayer}
\end{tikzpicture}
\end{document}
